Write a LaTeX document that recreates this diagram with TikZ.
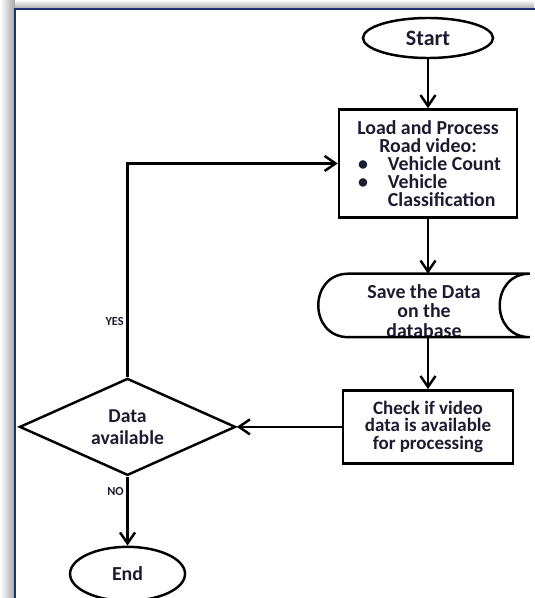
\documentclass[tikz,border=0pt]{standalone}
\usepackage{fontspec}
\setmainfont{Carlito}
\usepackage{tikz}
\usetikzlibrary{arrows.meta,positioning,shapes.geometric,calc}
\definecolor{fcedge}{RGB}{0,0,0}
\definecolor{fcink}{RGB}{28,28,48}
\definecolor{fcframe}{RGB}{30,50,115}
\newlength{\pxu}
\setlength{\pxu}{0.02cm}
\tikzset{
  fcbox/.style={
    draw=fcedge, line width=1.4pt, align=center, inner sep=2pt,
    text=fcink, font=\bfseries\fontsize{11.3}{10.3}\selectfont
  },
  term/.style={fcbox, ellipse, font=\bfseries\fontsize{12.5}{13}\selectfont},
  proc/.style={fcbox, rectangle},
  store/.style={fcbox, draw=none, rectangle},
  decide/.style={fcbox, diamond, aspect=2.2, inner sep=0pt},
  arr/.style={-{Straight Barb[length=2.2mm,width=3mm]}, draw=fcedge, line width=1.4pt},
  lbl/.style={font=\bfseries\fontsize{7}{8}\selectfont, text=fcink, inner sep=1.5pt},
  every picture/.append style={line join=miter}
}

\begin{document}
\begin{tikzpicture}[x=\pxu, y=-\pxu, node distance=50\pxu]
  % page, frame and its shadow
  \useasboundingbox (0,0) rectangle (534,598);
  \shade[left color=white, right color=black!35] (0,0) rectangle (15,598);
  \shade[top color=white, bottom color=black!35] (15,0) rectangle (534,9);
  \draw[fcframe, line width=1.5pt] (15,620) -- (15,9) -- (560,9);

  \node[term, minimum width=130\pxu, minimum height=40\pxu] (start) at (428,38) {Start};
  \node[proc, minimum width=178\pxu, minimum height=108\pxu, below=49\pxu of start] (load)
    {Load and Process\\Road video:\\
     \makebox[140\pxu][l]{\textbullet\hspace{20\pxu}Vehicle Count}\\
     \makebox[140\pxu][l]{\textbullet\hspace{20\pxu}Vehicle}\\
     \makebox[140\pxu][l]{\hphantom{\textbullet}\hspace{20\pxu}Classification}};
  \node[store, minimum width=209\pxu, minimum height=61\pxu, below=55\pxu of load, xshift=-4\pxu] (save) {};
  \begin{scope}
    \clip (save.south west) rectangle (save.north east);
    \node[store, anchor=north, font=\bfseries\fontsize{11.3}{11}\selectfont] (savetxt)
      at ([yshift=-6\pxu]save.north) {Save the Data\\on the\\database};
  \end{scope}
  \draw[line width=1.4pt, draw=fcedge]
    ([xshift=30\pxu]save.north west) -- (save.north east)
    .. controls ([xshift=-40\pxu]save.north east) and ([xshift=-40\pxu]save.south east) .. (save.south east)
    -- ([xshift=30\pxu]save.south west)
    .. controls ([xshift=-10\pxu]save.south west) and ([xshift=-10\pxu]save.north west) .. cycle;
  \node[proc, minimum width=170\pxu, minimum height=73\pxu, font=\bfseries\fontsize{10.8}{9.8}\selectfont,
    below=52\pxu of save.south -| load, anchor=north] (check)
    {Check if video\\data is available\\for processing};
  \node[decide, minimum width=216\pxu, minimum height=97\pxu, font=\bfseries\fontsize{11.2}{12.6}\selectfont,
    left=105\pxu of check] (dec) {Data\\available};
  \node[term, minimum width=115\pxu, minimum height=54\pxu, font=\bfseries\fontsize{11.3}{12}\selectfont,
    below=69\pxu of dec] (end) {End};

  \draw[arr] (start) -- (load);
  \draw[arr] (load.south) -- (load.south |- save.north);
  \draw[arr] (load.south |- save.south) -- (check.north);
  \draw[arr] (check) -- (dec);
  \draw[arr] (dec.north) |- node[pos=0.13, left, lbl] {YES} (load.west);
  \draw[arr] (dec.south) -- node[pos=0.22, left, lbl] {NO} (end);
\end{tikzpicture}
\end{document}
